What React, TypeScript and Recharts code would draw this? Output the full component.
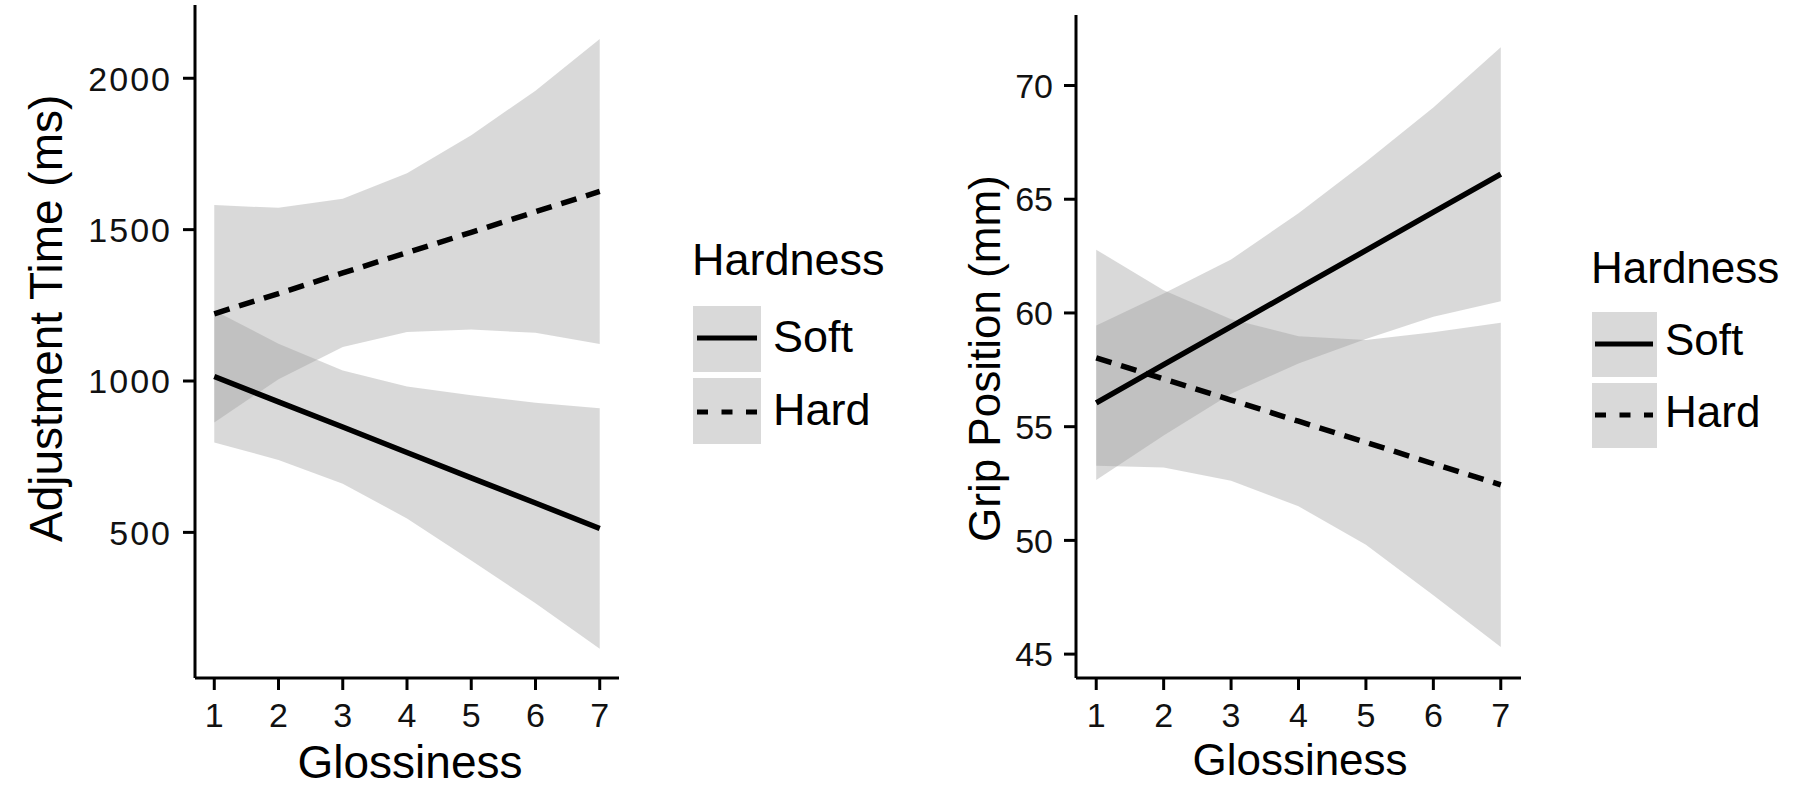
import React from 'react';
import { ComposedChart, Area, Line, XAxis, YAxis } from 'recharts';

// ---------- data ----------
const glossiness = [1, 2, 3, 4, 5, 6, 7];
const glossTicks = [1, 2, 3, 4, 5, 6, 7];
const hardnessLevels = ['Soft', 'Hard'];

// Left panel: Adjustment Time (ms)
const timeSoftFit = [1015, 931, 848, 764, 680, 597, 513];
const timeSoftLower = [797, 739, 661, 546, 407, 266, 116];
const timeSoftUpper = [1233, 1123, 1035, 982, 953, 928, 910];
const timeHardFit = [1222, 1289, 1357, 1424, 1491, 1559, 1626];
const timeHardLower = [863, 1006, 1112, 1162, 1170, 1159, 1122];
const timeHardUpper = [1581, 1572, 1602, 1686, 1812, 1959, 2130];
const timeTicks = [500, 1000, 1500, 2000];

// Right panel: Grip Position (mm)
const gripSoftFit = [56.05, 57.73, 59.4, 61.08, 62.75, 64.43, 66.1];
const gripSoftLower = [52.65, 54.61, 56.45, 57.78, 58.85, 59.83, 60.52];
const gripSoftUpper = [59.45, 60.85, 62.35, 64.38, 66.65, 69.03, 71.68];
const gripHardFit = [58.03, 57.1, 56.17, 55.24, 54.31, 53.37, 52.44];
const gripHardLower = [53.28, 53.2, 52.62, 51.5, 49.81, 47.59, 45.31];
const gripHardUpper = [62.78, 61.0, 59.72, 58.98, 58.81, 59.15, 59.57];
const gripTicks = [45, 50, 55, 60, 65, 70];

const FONT = '"Liberation Sans", Arial, Helvetica, sans-serif';
const BAND_FILL = '#9c9c9c';
const BAND_OPACITY = 0.38;
const KEY_FILL = '#d9d9d9';

function buildRows(
  softFit: number[], softLo: number[], softHi: number[],
  hardFit: number[], hardLo: number[], hardHi: number[]
) {
  return glossiness.map((g, i) => ({
    x: g,
    soft: softFit[i],
    hard: hardFit[i],
    softBand: [softLo[i], softHi[i]],
    hardBand: [hardLo[i], hardHi[i]],
  }));
}

const timeRows = buildRows(timeSoftFit, timeSoftLower, timeSoftUpper, timeHardFit, timeHardLower, timeHardUpper);
const gripRows = buildRows(gripSoftFit, gripSoftLower, gripSoftUpper, gripHardFit, gripHardLower, gripHardUpper);

const YTick = (props: any) => {
  const { x, y, payload, fs, ls } = props;
  return (
    <text x={x + ls} y={y + fs * 0.36} textAnchor="end" fontSize={fs} fill="#111"
      fontFamily={FONT} letterSpacing={ls}>
      {payload.value}
    </text>
  );
};

const XTick = (props: any) => {
  const { x, y, payload, fs } = props;
  return (
    <text x={x} y={y + 35} textAnchor="middle" fontSize={fs} fill="#111" fontFamily={FONT}>
      {payload.value}
    </text>
  );
};

type PanelProps = {
  rows: any[];
  left: number;
  width: number;
  margin: { top: number; right: number; bottom: number; left: number };
  domain: [number, number];
  ticks: number[];
  tickMarginY: number;
  ls: number;
};

function Panel({ rows, left, width, margin, domain, ticks, tickMarginY, ls }: PanelProps) {
  return (
    <div style={{ position: 'absolute', left, top: 0 }}>
      <ComposedChart width={width} height={789} data={rows} margin={margin}>
        <XAxis
          type="number"
          dataKey="x"
          domain={[0.7, 7.3]}
          ticks={glossTicks}
          interval={0}
          allowDataOverflow
          height={60}
          axisLine={{ stroke: '#000', strokeWidth: 3 }}
          tickLine={{ stroke: '#000', strokeWidth: 3 }}
          tickSize={12}
          tickMargin={2}
          tick={(p: any) => <XTick {...p} fs={34} />}
        />
        <YAxis
          type="number"
          domain={domain}
          ticks={ticks}
          interval={0}
          allowDataOverflow
          width={100}
          axisLine={{ stroke: '#000', strokeWidth: 3 }}
          tickLine={{ stroke: '#000', strokeWidth: 3 }}
          tickSize={12}
          tickMargin={tickMarginY}
          tick={(p: any) => <YTick {...p} fs={34} ls={ls} />}
        />
        <Area dataKey="softBand" type="linear" stroke="none" fill={BAND_FILL} fillOpacity={BAND_OPACITY}
          isAnimationActive={false} dot={false} activeDot={false} />
        <Area dataKey="hardBand" type="linear" stroke="none" fill={BAND_FILL} fillOpacity={BAND_OPACITY}
          isAnimationActive={false} dot={false} activeDot={false} />
        <Line dataKey="soft" name={hardnessLevels[0]} type="linear" stroke="#000" strokeWidth={5.5}
          dot={false} activeDot={false} isAnimationActive={false} />
        <Line dataKey="hard" name={hardnessLevels[1]} type="linear" stroke="#000" strokeWidth={5.5}
          strokeDasharray="16 10" dot={false} activeDot={false} isAnimationActive={false} />
      </ComposedChart>
    </div>
  );
}

function LegendBlock({ x, titleY, fs, boxW, boxH, box1Y, box2Y, lineX1, lineX2, line1Y, line2Y, labelX, label1Y, label2Y }: any) {
  return (
    <g fontFamily={FONT} fill="#000">
      <text x={x} y={titleY} fontSize={fs}>Hardness</text>
      <rect x={x + 1} y={box1Y} width={boxW} height={boxH} fill={KEY_FILL} />
      <rect x={x + 1} y={box2Y} width={boxW} height={boxH} fill={KEY_FILL} />
      <line x1={lineX1} x2={lineX2} y1={line1Y} y2={line1Y} stroke="#000" strokeWidth={5} />
      <line x1={lineX1} x2={lineX2} y1={line2Y} y2={line2Y} stroke="#000" strokeWidth={5} strokeDasharray="11 13.5" />
      <text x={labelX} y={label1Y} fontSize={fs}>{hardnessLevels[0]}</text>
      <text x={labelX} y={label2Y} fontSize={fs}>{hardnessLevels[1]}</text>
    </g>
  );
}

export default function App() {
  return (
    <div style={{ position: 'absolute', left: 0, top: 0, width: 1802, height: 789, background: '#fff', overflow: 'hidden' }}>
      <Panel rows={timeRows} left={0} width={660}
        margin={{ top: 5, right: 41, bottom: 51, left: 95 }}
        domain={[19, 2242]} ticks={timeTicks} tickMarginY={13} ls={2} />
      <Panel rows={gripRows} left={880} width={680}
        margin={{ top: 15, right: 39, bottom: 51, left: 96 }}
        domain={[43.95, 73.1]} ticks={gripTicks} tickMarginY={11} ls={0} />
      <svg width={1802} height={789} style={{ position: 'absolute', left: 0, top: 0, pointerEvents: 'none' }}>
        <g fontFamily={FONT} fill="#000">
          <text x={410} y={778} fontSize={46} textAnchor="middle">Glossiness</text>
          <text x={1300} y={775} fontSize={44} textAnchor="middle">Glossiness</text>
          <text transform="translate(62,542) rotate(-90)" fontSize={46} textAnchor="start">Adjustment Time (ms)</text>
          <text transform="translate(1000,542) rotate(-90)" fontSize={44} textAnchor="start">Grip Position (mm)</text>
        </g>
        <LegendBlock x={692} titleY={275} fs={45} boxW={68} boxH={66} box1Y={306} box2Y={378}
          lineX1={697} lineX2={757} line1Y={338} line2Y={412} labelX={773} label1Y={352} label2Y={425} />
        <LegendBlock x={1591} titleY={283} fs={44} boxW={65} boxH={65} box1Y={312} box2Y={383}
          lineX1={1595} lineX2={1653} line1Y={344} line2Y={415} labelX={1665} label1Y={355} label2Y={427} />
      </svg>
    </div>
  );
}
